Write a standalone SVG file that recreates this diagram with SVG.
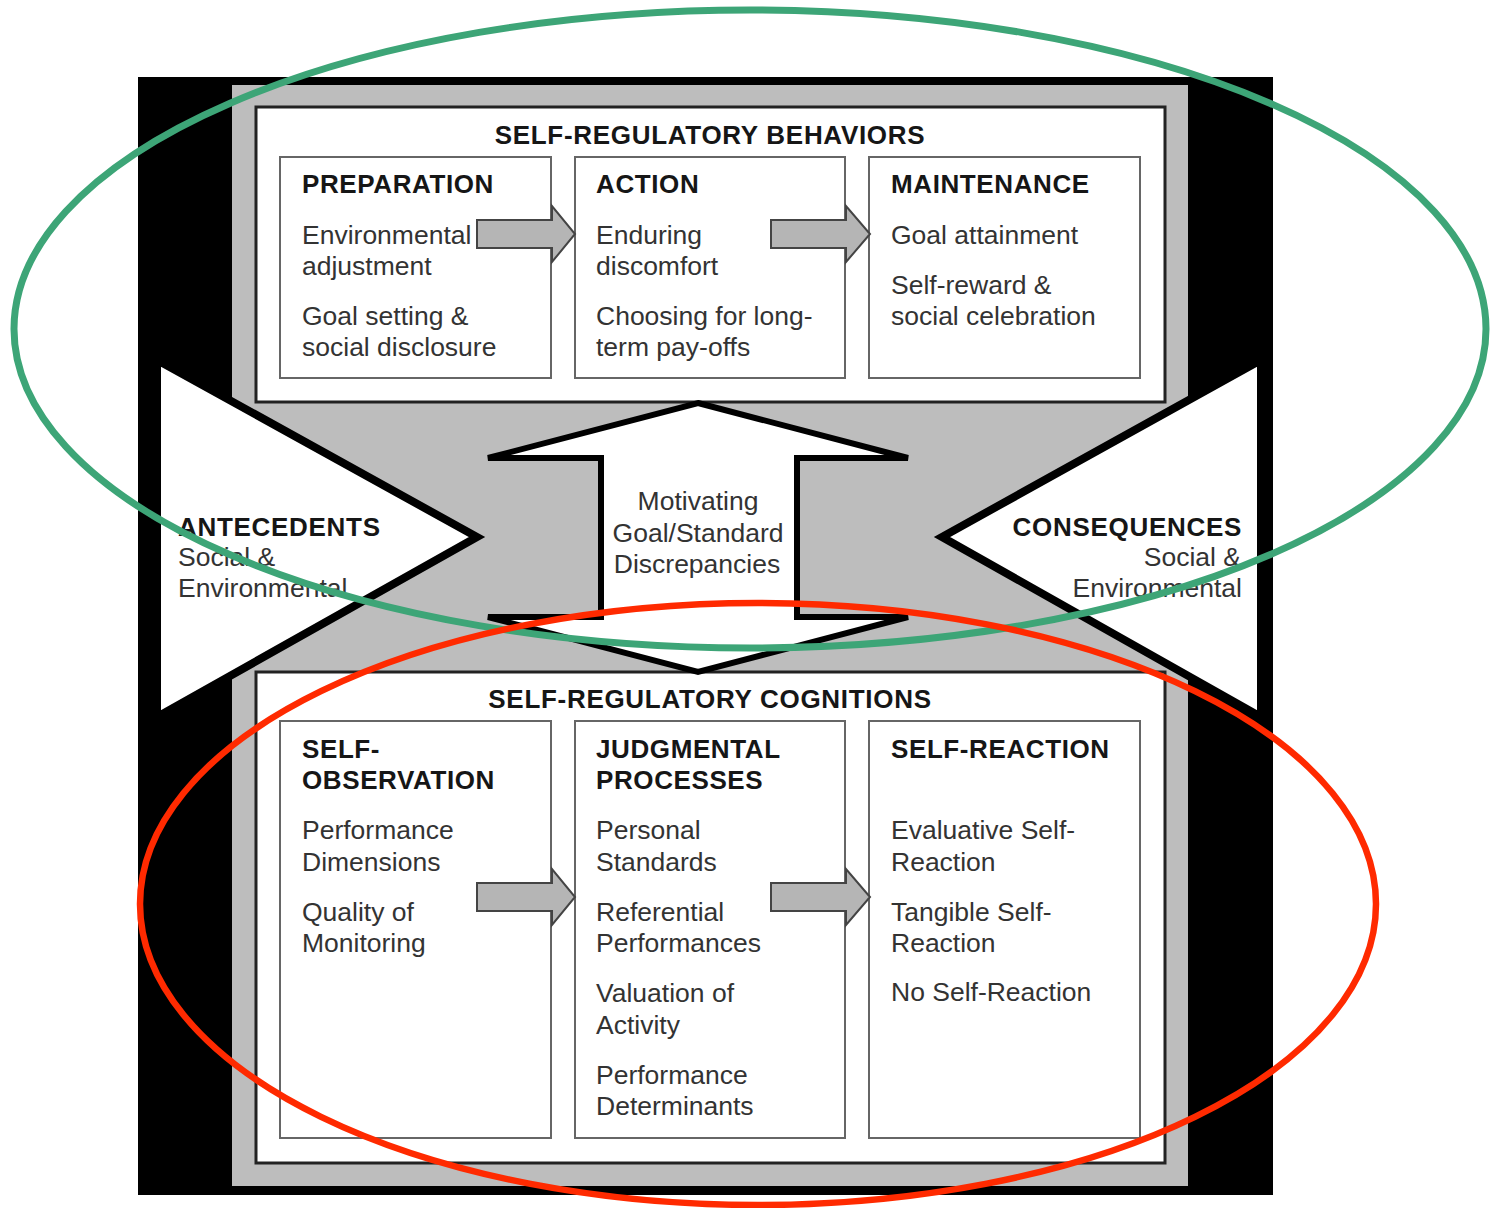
<svg xmlns="http://www.w3.org/2000/svg" width="1490" height="1208" viewBox="0 0 1490 1208">
<defs>
<style>
.h{font-family:"Liberation Sans",Arial,sans-serif;font-weight:bold;font-size:26px;letter-spacing:0.6px;fill:#161616}
.b{font-family:"Liberation Sans",Arial,sans-serif;font-size:26.5px;fill:#333}
.panel{fill:#fff;stroke:#222;stroke-width:3}
.box{fill:#fff;stroke:#666;stroke-width:2}
.arr{fill:#b5b5b5;stroke:#444;stroke-width:2;stroke-linejoin:miter}
.tri{fill:#fff;stroke:#000;stroke-width:8;stroke-linejoin:miter;stroke-miterlimit:3}
</style>
</defs>
<rect width="1490" height="1208" fill="#fff"/>
<rect x="138" y="77" width="1135" height="1118" fill="#000"/>
<rect x="232" y="85" width="956" height="1101" fill="#bdbdbd"/>

<g id="behaviors">
<rect class="panel" x="256" y="107" width="909" height="295"/>
<text class="h" x="710" y="144" text-anchor="middle" style="letter-spacing:0.7px">SELF-REGULATORY BEHAVIORS</text>
</g>
<g id="preparation">
<rect class="box" x="280" y="157" width="271" height="221"/>
<text class="h" x="302" y="193">PREPARATION</text>
<text class="b" x="302" y="244">Environmental</text>
<text class="b" x="302" y="275">adjustment</text>
<text class="b" x="302" y="325">Goal setting &amp;</text>
<text class="b" x="302" y="356">social disclosure</text>
</g>
<g id="action">
<rect class="box" x="575" y="157" width="270" height="221"/>
<text class="h" x="596" y="193">ACTION</text>
<text class="b" x="596" y="244">Enduring</text>
<text class="b" x="596" y="275">discomfort</text>
<text class="b" x="596" y="325">Choosing for long-</text>
<text class="b" x="596" y="356">term pay-offs</text>
</g>
<g id="maintenance">
<rect class="box" x="869" y="157" width="271" height="221"/>
<text class="h" x="891" y="193">MAINTENANCE</text>
<text class="b" x="891" y="244">Goal attainment</text>
<text class="b" x="891" y="294">Self-reward &amp;</text>
<text class="b" x="891" y="325">social celebration</text>
</g>

<g id="cognitions">
<rect class="panel" x="256" y="672" width="909" height="491"/>
<text class="h" x="710" y="708" text-anchor="middle" style="letter-spacing:0.7px">SELF-REGULATORY COGNITIONS</text>
</g>
<g id="self-observation">
<rect class="box" x="280" y="721" width="271" height="417"/>
<text class="h" x="302" y="758">SELF-</text>
<text class="h" x="302" y="789">OBSERVATION</text>
<text class="b" x="302" y="839">Performance</text>
<text class="b" x="302" y="871">Dimensions</text>
<text class="b" x="302" y="921">Quality of</text>
<text class="b" x="302" y="952">Monitoring</text>
</g>
<g id="judgmental">
<rect class="box" x="575" y="721" width="270" height="417"/>
<text class="h" x="596" y="758">JUDGMENTAL</text>
<text class="h" x="596" y="789">PROCESSES</text>
<text class="b" x="596" y="839">Personal</text>
<text class="b" x="596" y="871">Standards</text>
<text class="b" x="596" y="921">Referential</text>
<text class="b" x="596" y="952">Performances</text>
<text class="b" x="596" y="1002">Valuation of</text>
<text class="b" x="596" y="1034">Activity</text>
<text class="b" x="596" y="1084">Performance</text>
<text class="b" x="596" y="1115">Determinants</text>
</g>
<g id="self-reaction">
<rect class="box" x="869" y="721" width="271" height="417"/>
<text class="h" x="891" y="758">SELF-REACTION</text>
<text class="b" x="891" y="839">Evaluative Self-</text>
<text class="b" x="891" y="871">Reaction</text>
<text class="b" x="891" y="921">Tangible Self-</text>
<text class="b" x="891" y="952">Reaction</text>
<text class="b" x="891" y="1001">No Self-Reaction</text>
</g>

<g id="connectors">
<polygon class="arr" points="477,220 552,220 552,206 575,234 552,262 552,248 477,248"/>
<polygon class="arr" points="771,220 846,220 846,206 870,234 846,262 846,248 771,248"/>
<polygon class="arr" points="477,883 552,883 552,869 575,897 552,925 552,911 477,911"/>
<polygon class="arr" points="771,883 846,883 846,869 870,897 846,925 846,911 771,911"/>
</g>

<g id="discrepancies">
<polygon points="698,403 908,458 797,458 797,617 908,617 698,672 488,617 601,617 601,458 488,458" fill="#fff" stroke="#000" stroke-width="6" stroke-linejoin="miter" stroke-miterlimit="2"/>
<text class="b" x="698" y="510" text-anchor="middle">Motivating</text>
<text class="b" x="698" y="542" text-anchor="middle">Goal/Standard</text>
<text class="b" x="697" y="573" text-anchor="middle">Discrepancies</text>
</g>

<g id="antecedents">
<polygon class="tri" points="157,360 477,537 157,717"/>
<text class="h" x="178" y="536" style="letter-spacing:0.7px">ANTECEDENTS</text>
<text class="b" x="178" y="566">Social &amp;</text>
<text class="b" x="178" y="597">Environmental</text>
</g>
<g id="consequences">
<polygon class="tri" points="1261,360 942,537 1261,717"/>
<text class="h" x="1242" y="536" text-anchor="end" style="letter-spacing:0.7px">CONSEQUENCES</text>
<text class="b" x="1241" y="566" text-anchor="end">Social &amp;</text>
<text class="b" x="1242" y="597" text-anchor="end">Environmental</text>
</g>

<g id="highlights">
<ellipse cx="750" cy="329" rx="736" ry="319" fill="none" stroke="#3da577" stroke-width="7"/>
<ellipse cx="758" cy="904" rx="618" ry="301" fill="none" stroke="#ff2a00" stroke-width="6.5"/>
</g>
</svg>
